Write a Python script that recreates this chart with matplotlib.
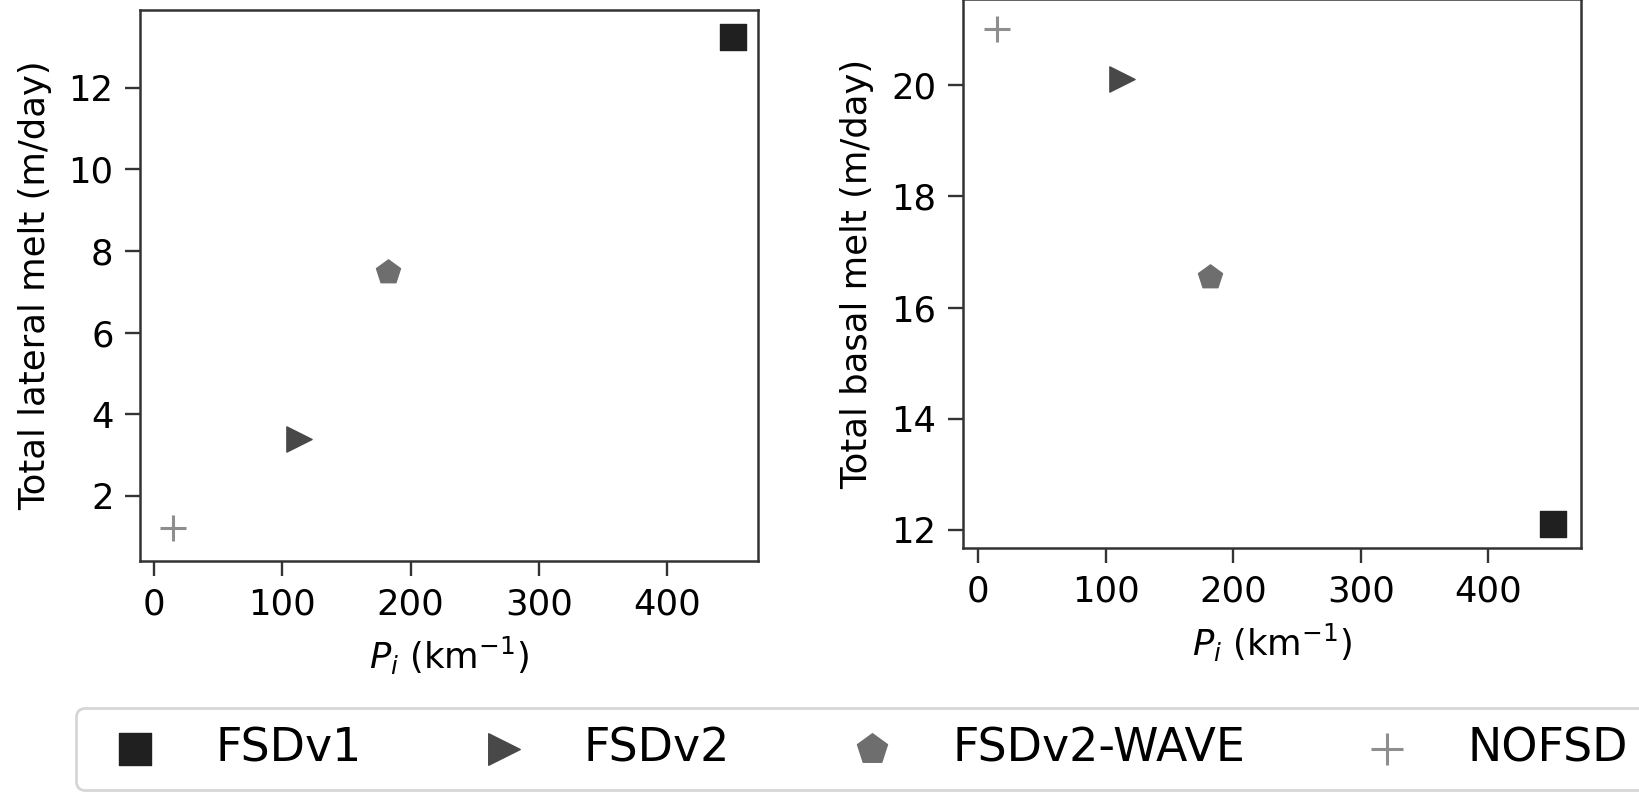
import matplotlib
matplotlib.use("Agg")
import matplotlib.pyplot as plt

# Run names and their perimeter density P_i (km^-1)
runs = ["FSDv1", "FSDv2", "FSDv2-WAVE", "NOFSD"]
perimeter = [451, 113, 182, 15]
lateral_melt = [13.25, 3.39, 7.48, 1.22]
basal_melt = [12.10, 20.12, 16.56, 21.01]

markers = ["s", ">", "p", "+"]
colors = ["#202020", "#484848", "#6e6e6e", "#8e8e8e"]

x_ticks = [0, 100, 200, 300, 400]
lateral_ticks = [2, 4, 6, 8, 10, 12]
basal_ticks = [12, 14, 16, 18, 20]

plt.rcParams["font.family"] = "DejaVu Sans"
W, H = 1639, 793
fig = plt.figure(figsize=(W / 100, H / 100), dpi=100)

ax1 = fig.add_axes([140 / W, 1 - 560.7 / H, 617.7 / W, 550.7 / H])
ax2 = fig.add_axes([962.8 / W, 1 - 547.7 / H, 617.9 / W, 548.5 / H])

fs = 25.5
for ax, vals, yl, ticks in [
    (ax1, lateral_melt, "Total lateral melt (m/day)", lateral_ticks),
    (ax2, basal_melt, "Total basal melt (m/day)", basal_ticks),
]:
    for name, xv, yv, m, c in zip(runs, perimeter, vals, markers, colors):
        lw = 2.2 if m == "+" else 1.0
        ax.scatter([xv], [yv], marker=m, s=330, color=c, linewidths=lw,
                   label=name, zorder=3)
    ax.set_xticks(x_ticks)
    ax.set_yticks(ticks)
    ax.set_xlabel(r"$P_i$ (km$^{-1}$)", fontsize=fs, labelpad=10)
    ax.set_ylabel(yl, fontsize=fs, labelpad=12)
    ax.tick_params(labelsize=fs, length=11, width=1.7, pad=8, color="#333333")
    for sp in ax.spines.values():
        sp.set_linewidth(1.8)
        sp.set_color("#333333")

ax1.set_xlim(-11, 470.5)
ax1.set_ylim(0.41, 13.9)
ax2.set_xlim(-12.2, 472.5)
ax2.set_ylim(11.68, 21.55)

handles, labels = ax1.get_legend_handles_labels()
leg = fig.legend(handles, labels, ncol=4, loc="upper left",
                 bbox_to_anchor=(75.5 / W, 1 - 708 / H),
                 bbox_transform=fig.transFigure, borderaxespad=0,
                 fontsize=33, frameon=True, markerscale=1.25,
                 handlelength=1.8, handletextpad=0.85, columnspacing=2.2)
leg.get_frame().set_linewidth(2.0)
leg.get_frame().set_edgecolor("#cccccc")

fig.savefig("out.png", dpi=100)
